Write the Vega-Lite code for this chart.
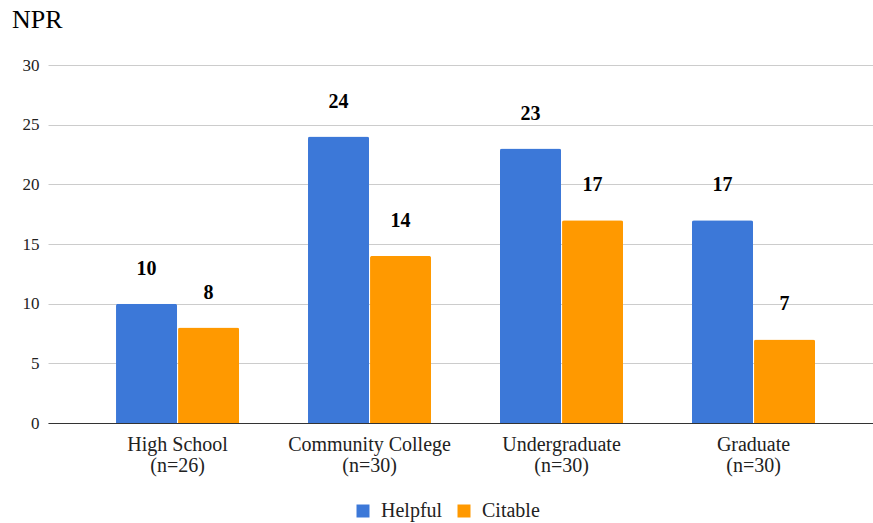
{
  "$schema": "https://vega.github.io/schema/vega-lite/v6.json",
  "width": 825,
  "height": 358,
  "autosize": {"type": "none"},
  "padding": {"left": 48, "top": 65, "right": 0, "bottom": 100},
  "background": "white",
  "title": {
    "text": "NPR",
    "anchor": "start",
    "frame": "group",
    "dx": -36,
    "offset": 2,
    "baseline": "alphabetic",
    "font": "'Liberation Serif', 'Times New Roman', serif",
    "fontSize": 26,
    "fontWeight": "normal",
    "color": "#000000"
  },
  "config": {
    "view": {"stroke": null},
    "font": "'Liberation Serif', 'Times New Roman', serif"
  },
  "data": {
    "values": [
      {"level": "High School (n=26)", "series": "Helpful", "value": 10},
      {"level": "High School (n=26)", "series": "Citable", "value": 8},
      {"level": "Community College (n=30)", "series": "Helpful", "value": 24},
      {"level": "Community College (n=30)", "series": "Citable", "value": 14},
      {"level": "Undergraduate (n=30)", "series": "Helpful", "value": 23},
      {"level": "Undergraduate (n=30)", "series": "Citable", "value": 17},
      {"level": "Graduate (n=30)", "series": "Helpful", "value": 17},
      {"level": "Graduate (n=30)", "series": "Citable", "value": 7}
    ]
  },
  "encoding": {
    "x": {
      "field": "level",
      "type": "nominal",
      "sort": null,
      "scale": {"paddingInner": 0.359, "paddingOuter": 0.328, "align": 0.54},
      "axis": {
        "title": null,
        "labelAngle": 0,
        "labelExpr": "[slice(datum.label, 0, indexof(datum.label, ' (')), slice(datum.label, indexof(datum.label, ' (') + 1)]",
        "labelFont": "'Liberation Serif', 'Times New Roman', serif",
        "labelFontSize": 20,
        "labelColor": "#222222",
        "labelLineHeight": 21,
        "labelPadding": 11,
        "ticks": false,
        "domainColor": "#333333",
        "domainWidth": 1,
        "grid": false
      }
    },
    "xOffset": {
      "field": "series",
      "sort": ["Helpful", "Citable"],
      "scale": {"paddingInner": 0.016}
    },
    "y": {
      "field": "value",
      "type": "quantitative",
      "scale": {"domain": [0, 30]},
      "axis": {
        "title": null,
        "values": [0, 5, 10, 15, 20, 25, 30],
        "labelFont": "'Liberation Serif', 'Times New Roman', serif",
        "labelFontSize": 17,
        "labelColor": "#222222",
        "labelPadding": 9,
        "ticks": false,
        "domain": false,
        "gridColor": "#cccccc",
        "gridWidth": 1
      }
    }
  },
  "layer": [
    {
      "mark": {"type": "bar", "cornerRadiusTopLeft": 2, "cornerRadiusTopRight": 2},
      "encoding": {
        "color": {
          "field": "series",
          "type": "nominal",
          "sort": ["Helpful", "Citable"],
          "scale": {"domain": ["Helpful", "Citable"], "range": ["#3c78d8", "#ff9900"]},
          "legend": {
            "title": null,
            "orient": "none",
            "direction": "horizontal",
            "legendX": 305,
            "legendY": 436,
            "symbolType": "square",
            "symbolSize": 169,
            "symbolStrokeWidth": 0,
            "labelFont": "'Liberation Serif', 'Times New Roman', serif",
            "labelFontSize": 20,
            "labelColor": "#222222",
            "labelOffset": 8,
            "columnPadding": 11
          }
        }
      }
    },
    {
      "mark": {
        "type": "text",
        "dy": -29,
        "baseline": "alphabetic",
        "fontWeight": "bold",
        "fontSize": 20,
        "font": "'Liberation Serif', 'Times New Roman', serif",
        "color": "#000000"
      },
      "encoding": {"text": {"field": "value", "type": "quantitative"}}
    }
  ]
}
